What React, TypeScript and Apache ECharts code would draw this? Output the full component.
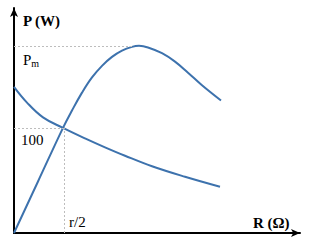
import React, { useEffect, useRef } from "react";
import * as echarts from "echarts";

// R axis values (pixel-like units from origin), r/2 at 50
const powerR = [0, 24, 49, 58, 68, 78, 88, 98, 108, 118, 125, 134, 148, 161, 174, 188, 207];
const powerP = [0, 49, 100, 116.5, 133.5, 148, 159, 167.5, 173.5, 177, 178, 176.5, 171, 163, 152.5, 140.5, 126];
const otherR = [0, 13, 29, 49, 71, 91, 111, 138, 171, 206];
const otherP = [139, 124, 110, 100, 90, 81.5, 73.5, 63.5, 53.5, 44];
const pm = 178;
const pmR = 118;
const halfR = 50;
const crossP = 100;
const xMax = 286;
const yMax = 214;

export default function App() {
  const ref = useRef<HTMLDivElement>(null);
  useEffect(() => {
    const chart = echarts.init(ref.current!, null, { renderer: "svg" });
    const serif = "'Liberation Serif', 'Times New Roman', serif";
    const blue = "#3d72ad";
    const dot = { color: "#bdbdbd", type: [2, 2] as any, width: 1 };
    chart.setOption({
      animation: false,
      grid: { left: 14, right: 11, top: 8, bottom: 15 },
      xAxis: {
        type: "value",
        min: 0,
        max: xMax,
        axisLine: { show: true, symbol: ["none", "arrow"], symbolSize: [6, 9], lineStyle: { color: "#000", width: 2 } },
        axisTick: { show: false },
        axisLabel: { show: false },
        splitLine: { show: false },
      },
      yAxis: {
        type: "value",
        min: 0,
        max: yMax,
        axisLine: { show: true, symbol: ["none", "arrow"], symbolSize: [6, 9], lineStyle: { color: "#000", width: 2 } },
        axisTick: { show: false },
        axisLabel: { show: false },
        splitLine: { show: false },
      },
      series: [
        {
          type: "line",
          data: powerR.map((r, i) => [r, powerP[i]]),
          smooth: 0.4,
          showSymbol: false,
          lineStyle: { color: blue, width: 2 },
          z: 3,
          markLine: {
            silent: true,
            symbol: "none",
            label: { show: false },
            lineStyle: dot,
            data: [
              [{ coord: [0, pm] }, { coord: [pmR, pm] }],
              [{ coord: [0, crossP] }, { coord: [halfR, crossP] }],
              [{ coord: [halfR, 0] }, { coord: [halfR, crossP] }],
            ],
          },
        },
        {
          type: "line",
          data: otherR.map((r, i) => [r, otherP[i]]),
          smooth: 0.4,
          showSymbol: false,
          lineStyle: { color: blue, width: 2 },
          z: 3,
        },
      ],
      graphic: [
        { type: "text", left: 23, top: 13, style: { text: "P (W)", font: `bold 15px ${serif}`, fill: "#000" } },
        {
          type: "text",
          left: 23,
          top: 52,
          style: {
            text: "{a|P}{b|m}",
            rich: {
              a: { fontFamily: serif, fontSize: 15, fill: "#000" },
              b: { fontFamily: serif, fontSize: 10, fill: "#000", padding: [7, 0, 0, 0] },
            },
          },
        },
        { type: "text", left: 21, top: 132, style: { text: "100", font: `15px ${serif}`, fill: "#000" } },
        { type: "text", left: 69, top: 214, style: { text: "r/2", font: `15px ${serif}`, fill: "#000" } },
        { type: "text", left: 253, top: 215, style: { text: "R (Ω)", font: `bold 15px ${serif}`, fill: "#000" } },
      ],
    });
    return () => chart.dispose();
  }, []);
  return <div ref={ref} style={{ width: 311, height: 248, position: "absolute", left: 0, top: 0 }} />;
}
